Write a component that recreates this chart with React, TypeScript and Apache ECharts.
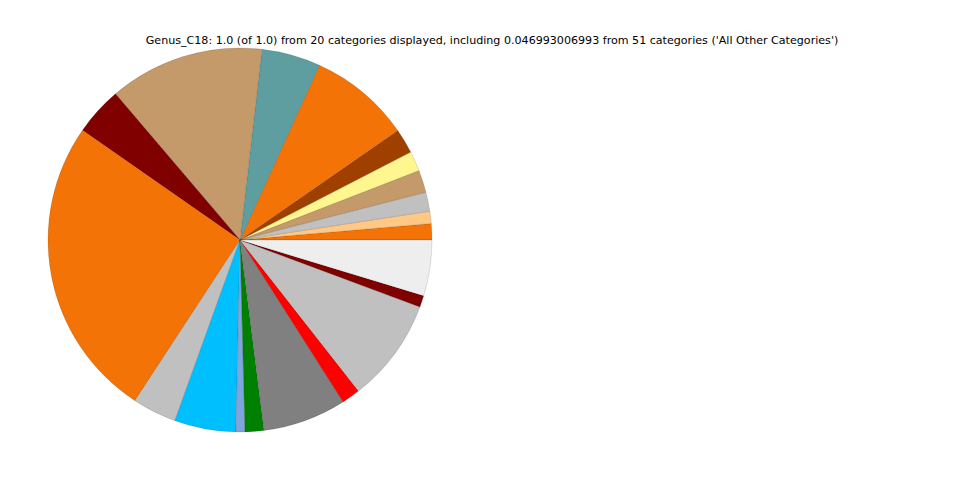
import React, { useEffect, useRef } from "react";
import * as echarts from "echarts";

const TITLE =
  "Genus_C18: 1.0 (of 1.0) from 20 categories displayed, including 0.046993006993 from 51 categories ('All Other Categories')";

const categories = [
  "Cat 1", "Cat 2", "Cat 3", "Cat 4", "Cat 5", "Cat 6", "Cat 7", "Cat 8", "Cat 9", "Cat 10",
  "Cat 11", "Cat 12", "Cat 13", "Cat 14", "Cat 15", "Cat 16", "Cat 17", "Cat 18", "Cat 19",
  "All Other Categories",
];

const values = [
  0.0137, 0.0103, 0.0161, 0.0189, 0.0167, 0.0208, 0.0856, 0.0497, 0.1306, 0.0408,
  0.2547, 0.0372, 0.0517, 0.0075, 0.0158, 0.0703, 0.0156, 0.0875, 0.0097, 0.0470,
];

const colors = [
  "#f47306", "#ffc884", "#c0c0c0", "#c49a6a", "#fff68f", "#a04000", "#f47306", "#5f9ea0",
  "#c49a6a", "#800000", "#f47306", "#c0c0c0", "#00bfff", "#7fa6dc", "#008000", "#808080",
  "#ff0000", "#c0c0c0", "#800000", "#eeeeee",
];

export default function App() {
  const ref = useRef<HTMLDivElement>(null);
  useEffect(() => {
    if (!ref.current) return;
    const chart = echarts.init(ref.current, null, { renderer: "svg" });
    chart.setOption({
      animation: false,
      backgroundColor: "#ffffff",
      graphic: [
        {
          type: "text",
          x: 492,
          y: 40,
          style: {
            text: TITLE,
            fontFamily: "DejaVu Sans",
            fontSize: 11.1,
            fill: "#000",
            textAlign: "center",
            textVerticalAlign: "middle",
          },
        },
      ],
      series: [
        {
          type: "pie",
          center: [240, 240],
          radius: 192,
          startAngle: 0,
          clockwise: false,
          label: { show: false },
          labelLine: { show: false },
          emphasis: { disabled: true },
          itemStyle: { borderColor: "rgba(0,0,0,0.3)", borderWidth: 0.4 },
          data: categories.map((name, i) => ({
            name,
            value: values[i],
            itemStyle: { color: colors[i] },
          })),
        },
      ],
    });
    return () => chart.dispose();
  }, []);
  return (
    <div
      ref={ref}
      style={{ position: "fixed", left: 0, top: 0, width: 960, height: 480 }}
    />
  );
}
